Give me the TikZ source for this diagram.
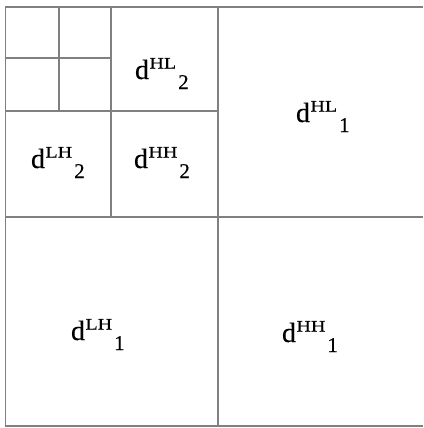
\documentclass[tikz,border=0pt]{standalone}
\usepackage{fontspec}
\usepackage{graphicx}
\setmainfont{Liberation Serif}
\newfontfamily\lblfont[FakeBold=0.4]{Liberation Serif}
\newcommand{\wlbl}[2]{{\lblfont{\fontsize{28}{28}\selectfont d}\kern0.5pt\raisebox{10.5pt}{\fontsize{16}{16}\selectfont\scalebox{1.25}[1]{#1}}\kern2pt\raisebox{-10pt}{\fontsize{21}{21}\selectfont #2}}}
\begin{document}
\begin{tikzpicture}[x=1pt,y=-1pt,
  gridline/.style={draw=black!50,line width=1.6pt},
  lbl/.style={anchor=base west,inner sep=0pt,outer sep=0pt,text=black}]
\useasboundingbox (0,0) rectangle (423,428);
\fill[white] (0,0) rectangle (423,428);
% outer frame (no right border)
\draw[gridline] (423,7) -- (5.5,7) -- (5.5,426) -- (423,426);
% level 1
\draw[gridline] (218,7) -- (218,426);
\draw[gridline] (5.5,217) -- (423,217);
% level 2
\draw[gridline] (111,7) -- (111,217);
\draw[gridline] (5.5,111) -- (218,111);
% level 3
\draw[gridline] (59,7) -- (59,111);
\draw[gridline] (5.5,58) -- (111,58);
% labels
\node[lbl] (hl2) at (135,79) {\wlbl{HL}{2}};
\node[lbl] (lh2) at (31,168) {\wlbl{LH}{2}};
\node[lbl] (hh2) at (134,168) {\wlbl{HH}{2}};
\node[lbl] (hl1) at (296,122) {\wlbl{HL}{1}};
\node[lbl] (lh1) at (71,340) {\wlbl{LH}{1}};
\node[lbl] (hh1) at (282,342) {\wlbl{HH}{1}};
\end{tikzpicture}
\end{document}
